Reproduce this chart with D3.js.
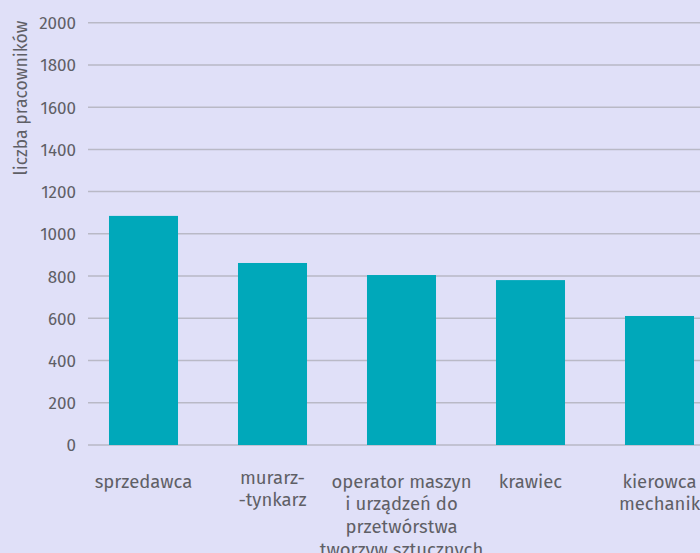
<!DOCTYPE html>
<html><head><meta charset="utf-8">
<script src="https://cdn.jsdelivr.net/npm/d3@7"></script>
<style>
html,body{margin:0;padding:0;background:#e0e0f8;overflow:hidden;}
svg{display:block;}
text{font-family:"Fira Sans","Noto Sans",sans-serif;fill:#5f5f66;}
</style></head>
<body>
<svg id="chart" width="700" height="553"></svg>
<script>
const categories = ["sprzedawca", "murarz-\n-tynkarz", "operator maszyn\ni urządzeń do\nprzetwórstwa\ntworzyw sztucznych", "krawiec", "kierowca\nmechanik"];
const values = [1085, 862, 805, 781, 611];
const yTicks = [0, 200, 400, 600, 800, 1000, 1200, 1400, 1600, 1800, 2000];
const yTitle = "liczba pracowników";

const svg = d3.select("#chart");
const W = 700, H = 553;
svg.append("rect").attr("width", W).attr("height", H).attr("fill", "#e0e0f8");

const y = d3.scaleLinear().domain([0, 2000]).range([445, 22.7]);
const x = d3.scaleBand().domain(categories).range([79, 724]).paddingInner(0.465).paddingOuter(0.2325);

// gridlines
svg.append("g").selectAll("line").data(yTicks).join("line")
  .attr("x1", 88).attr("x2", W)
  .attr("y1", d => y(d)).attr("y2", d => y(d))
  .attr("stroke", "#b9b9c6").attr("stroke-width", 1.5);

// y tick labels
const yAxis = d3.axisLeft(y).tickValues(yTicks).tickFormat(d3.format("d")).tickSize(0).tickPadding(0);
const gy = svg.append("g").attr("transform", "translate(76,0)").call(yAxis);
gy.select(".domain").remove();
gy.selectAll("text").attr("font-size", 17).attr("fill", "#5f5f66")
  .style("font-family", '"Fira Sans","Noto Sans",sans-serif').attr("dy", "0.35em");

// bars
svg.append("g").selectAll("rect").data(values).join("rect")
  .attr("x", (d, i) => x(categories[i]))
  .attr("width", x.bandwidth())
  .attr("y", d => y(d))
  .attr("height", d => y(0) - y(d))
  .attr("fill", "#00a8ba");

// x labels
const lbl = svg.append("g").selectAll("text").data(categories).join("text")
  .attr("text-anchor", "middle").attr("font-size", 18.5)
  .attr("transform", (d, i) => `translate(${x(d) + x.bandwidth() / 2},${i === 1 ? 484 : 487.5})`);
lbl.each(function(d, i) {
  const lines = d.split("\n");
  d3.select(this).selectAll("tspan").data(lines).join("tspan")
    .attr("x", 0).attr("y", (l, j) => j * (i === 1 ? 21.7 : 22.8)).text(l => l);
});

// y title
svg.append("text").attr("transform", "translate(27,98) rotate(-90)")
  .attr("text-anchor", "middle").attr("font-size", 17.6).text(yTitle);
</script>
</body></html>
